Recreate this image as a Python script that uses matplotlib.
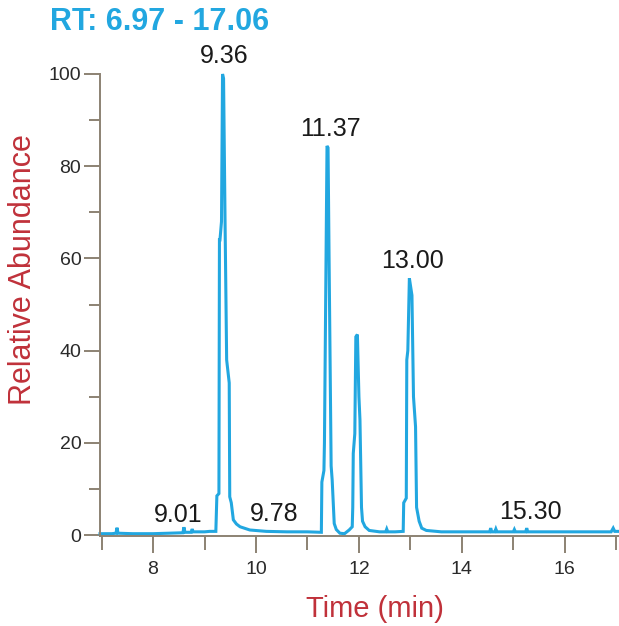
import numpy as np
import matplotlib
matplotlib.use('Agg')
import matplotlib.pyplot as plt
from matplotlib.ticker import MultipleLocator, FixedLocator

plt.rcParams['font.family'] = ['Liberation Sans', 'DejaVu Sans']

# ============================================================================
#                                   Data
# ============================================================================
time = [6.97, 7.20, 7.28, 7.30, 7.32, 7.60, 8.00, 8.30, 8.58, 8.60, 8.62,
        8.74, 8.76, 8.78, 9.00, 9.10, 9.22,
        9.24, 9.28, 9.29, 9.30, 9.33, 9.35, 9.37, 9.40, 9.43, 9.48, 9.49,
        9.52, 9.56, 9.62, 9.69, 9.88, 10.20, 10.60, 11.00, 11.27,
        11.28, 11.32, 11.33, 11.38, 11.40, 11.42, 11.46, 11.48, 11.52, 11.56,
        11.63, 11.72, 11.81, 11.87,
        11.88, 11.89, 11.92, 11.94, 11.97, 12.00, 12.02, 12.05, 12.07, 12.12,
        12.20, 12.40, 12.52, 12.54, 12.56, 12.70, 12.86,
        12.87, 12.92, 12.93, 12.95, 12.98, 13.03, 13.06, 13.10, 13.12, 13.17,
        13.22, 13.31, 13.60, 14.00, 14.40, 14.54, 14.56, 14.58, 14.64, 14.66,
        14.68, 15.00, 15.02, 15.04, 15.24, 15.26, 15.28, 15.60, 16.00, 16.50,
        16.90, 16.94, 16.97, 17.06]
abundance = [0.3, 0.3, 0.4, 1.6, 0.4, 0.3, 0.3, 0.4, 0.5, 1.7, 0.6,
             0.6, 1.3, 0.7, 0.7, 0.8, 0.8,
             8.5, 9.0, 64.0, 64.0, 68.0, 100.0, 99.0, 67.0, 38.0, 33.0, 8.3,
             7.0, 3.3, 2.4, 1.8, 1.1, 0.8, 0.7, 0.7, 0.6,
             11.5, 14.0, 20.0, 84.4, 84.0, 60.0, 15.0, 12.0, 2.5, 1.2,
             0.4, 0.3, 1.1, 1.8,
             6.0, 17.7, 22.0, 43.0, 43.5, 30.0, 25.0, 6.0, 3.0, 1.8,
             1.0, 0.7, 0.7, 1.3, 0.7, 0.7, 0.8,
             7.0, 8.0, 38.0, 40.0, 55.7, 52.0, 30.0, 23.5, 6.0, 3.0,
             1.5, 1.0, 0.7, 0.7, 0.7, 0.7, 1.5, 0.7, 0.7, 1.3,
             0.7, 0.7, 1.2, 0.7, 0.7, 1.5, 0.7, 0.7, 0.7, 0.7,
             0.7, 1.5, 0.8, 0.8]

peak_labels = ['9.36', '11.37', '13.00', '9.01', '9.78', '15.30']
peak_x = [9.38, 11.45, 13.04, 8.48, 10.35, 15.34]
peak_y = [102.4, 86.6, 57.9, 2.8, 3.1, 3.5]   # label baselines

# ============================================================================
#                                   Plotting
# ============================================================================
blue = '#22a7e0'
red = '#c0313a'
axis_col = '#8c8273'
text_col = '#2a2a2a'

fig = plt.figure(figsize=(6.19, 6.26), dpi=100)
ax = fig.add_axes([0.1616, 0.1438, 0.839, 0.738])

ax.plot(time, abundance, color=blue, lw=2.2, clip_on=False,
        solid_joinstyle='miter')

ax.set_xlim(6.97, 17.06)
ax.set_ylim(-0.2, 100)

for s in ['top', 'right']:
    ax.spines[s].set_visible(False)
for s in ['left', 'bottom']:
    ax.spines[s].set_color(axis_col)
    ax.spines[s].set_linewidth(1.4)

ax.xaxis.set_major_locator(FixedLocator([8, 10, 12, 14, 16]))
ax.xaxis.set_minor_locator(FixedLocator([7, 9, 11, 13, 15, 17]))
ax.yaxis.set_major_locator(MultipleLocator(20))
ax.yaxis.set_minor_locator(FixedLocator([10, 30, 50, 70, 90]))

ax.tick_params(axis='x', which='major', length=12, width=1.4, color=axis_col,
               labelsize=14, labelcolor=text_col, pad=6)
ax.tick_params(axis='x', which='minor', length=10, width=1.4, color=axis_col)
ax.tick_params(axis='y', which='major', length=11.5, width=1.4, color=axis_col,
               labelsize=14, labelcolor=text_col, pad=2)
ax.tick_params(axis='y', which='minor', length=8, width=1.4, color=axis_col)

for lab, x, y in zip(peak_labels, peak_x, peak_y):
    ax.text(x, y, lab, ha='center', va='baseline', fontsize=18,
            color='#1a1a1a')

fig.text(50 / 619, 1 - 30 / 626, 'RT: 6.97 - 17.06', ha='left',
         va='baseline', fontsize=22, fontweight='bold', color=blue)
fig.text(23 / 619, 1 - 270 / 626, 'Relative Abundance', rotation=90,
         ha='center', va='center', fontsize=22, color=red)
fig.text(375 / 619, 1 - 617 / 626, 'Time (min)', ha='center',
         va='baseline', fontsize=21, color=red)

fig.savefig('out.png', dpi=100)
